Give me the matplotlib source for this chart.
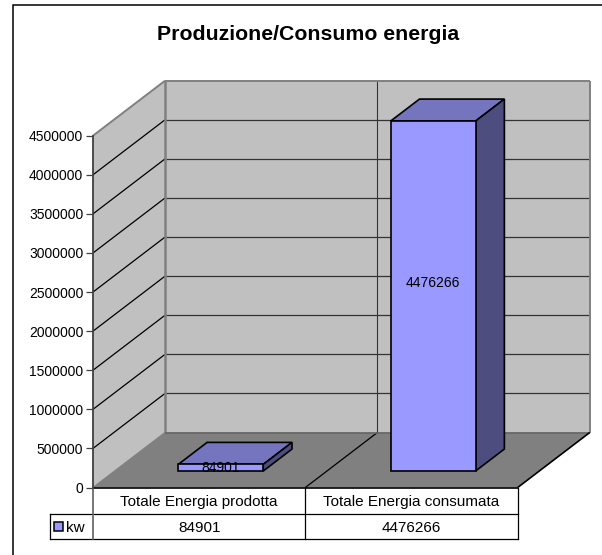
import matplotlib
matplotlib.use('Agg')
import matplotlib.pyplot as plt
from matplotlib.lines import Line2D
from matplotlib.patches import Polygon, Rectangle

plt.rcParams['font.family'] = ['Liberation Sans', 'DejaVu Sans']

title = 'Produzione/Consumo energia'
categories = ['Totale Energia prodotta', 'Totale Energia consumata']
values = [84901, 4476266]
series_name = 'kw'
y_ticks = [0, 500000, 1000000, 1500000, 2000000, 2500000, 3000000, 3500000, 4000000, 4500000]

W, H = 602, 555
# plot box in pixels
x0, x1, y_bot, y_top = 93, 517.7, 487.5, 135.7
DX = 0.339      # wall depth in category units
DY = 703000     # wall depth in value units
BAR = 0.4       # bar width / depth as share of a category

WALL = '#c0c0c0'
FLOOR = '#808080'
FRONT = '#9999ff'
TOP = '#7575bf'
SIDE = '#4d4d80'
FS = 10
FS_TABLE = 11

fig = plt.figure(figsize=(W / 100, H / 100), dpi=100)
ax = fig.add_axes([x0 / W, 1 - y_bot / H, (x1 - x0) / W, (y_bot - y_top) / H])
ax.set_xlim(0, len(categories))
ax.set_ylim(0, y_ticks[-1])
ax.patch.set_visible(False)


def pt(x, v, d=0.0):
    return (x + d * DX, v + d * DY)


def poly(points, fc, ec='none', lw=0, z=1):
    ax.add_patch(Polygon(points, closed=True, fc=fc, ec=ec, lw=lw, zorder=z,
                         clip_on=False, joinstyle='miter'))


def line(a, b, color='black', lw=0.8, z=2):
    ax.plot([a[0], b[0]], [a[1], b[1]], color=color, lw=lw, zorder=z,
            clip_on=False, solid_capstyle='butt')


#1. walls and floor
n = len(categories)
top = y_ticks[-1]
poly([pt(0, 0), pt(0, 0, 1), pt(0, top, 1), pt(0, top)], WALL)
poly([pt(0, 0, 1), pt(n, 0, 1), pt(n, top, 1), pt(0, top, 1)], WALL)
poly([pt(0, 0), pt(n, 0), pt(n, 0, 1), pt(0, 0, 1)], FLOOR)

for t in y_ticks[1:-1]:
    line(pt(0, t), pt(0, t, 1), lw=0.9)
    line(pt(0, t, 1), pt(n, t, 1), color='#333333', lw=0.9)

# category divider on floor and back wall
line(pt(1, 0), pt(1, 0, 1), lw=0.9)
line(pt(1, 0, 1), pt(1, top, 1), color='#333333', lw=0.8)

# wall outlines
line(pt(0, top), pt(0, top, 1), color=FLOOR, lw=1.4)
line(pt(0, top, 1), pt(n, top, 1), color=FLOOR, lw=1.4)
line(pt(0, 0, 1), pt(0, top, 1), color=FLOOR, lw=1.8)
line(pt(n, 0, 1), pt(n, top, 1), color=FLOOR, lw=1.4)
line(pt(0, 0, 1), pt(n, 0, 1), color='#666666', lw=1.2)
line(pt(0, 0), pt(0, 0, 1), color=FLOOR, lw=0.9)
line(pt(n, 0), pt(n, 0, 1), lw=1.2)
line(pt(0, 0), pt(n, 0), lw=1.2, z=3)

#2. bars
d0 = (1 - BAR) / 2
d1 = d0 + BAR
for i, v in enumerate(values):
    l = i + d0
    r = l + BAR
    poly([pt(l, v, d0), pt(r, v, d0), pt(r, v, d1), pt(l, v, d1)], TOP, 'black', 1.2, 4)
    poly([pt(r, 0, d0), pt(r, 0, d1), pt(r, v, d1), pt(r, v, d0)], SIDE, 'black', 1.2, 4)
    poly([pt(l, 0, d0), pt(r, 0, d0), pt(r, v, d0), pt(l, v, d0)], FRONT, 'black', 1.2, 5)
    cx, _ = pt(i + 0.5, 0, d0)
    ax.text(cx, 0.54 * v + d0 * DY - 10000, str(v), ha='center', va='center',
            fontsize=FS, zorder=6, clip_on=False)

#3. value axis
for s in ['top', 'right', 'bottom']:
    ax.spines[s].set_visible(False)
ax.spines['left'].set_color('#404040')
ax.spines['left'].set_linewidth(1.3)
ax.spines['left'].set_zorder(3)
ax.set_yticks(y_ticks)
ax.set_yticklabels([str(t) for t in y_ticks], fontsize=FS)
ax.tick_params(axis='y', length=5, width=0.9, color='#404040', pad=2)
ax.set_xticks([])

#4. data table under the plot
tr = ax.get_xaxis_transform()
box_h = y_bot - y_top
row1 = -26.5 / box_h
row2 = -51.5 / box_h
left = (50 - x0) / (x1 - x0) * n


def tline(xa, ya, xb, yb, color='black', lw=0.9):
    ax.plot([xa, xb], [ya, yb], color=color, lw=lw, transform=tr, clip_on=False,
            zorder=3, solid_capstyle='projecting')


tline(left, row1, n, row1)
tline(left, row2, n, row2)
tline(left, row1, left, row2)
tline(0, 0, 0, row2, color='#606060', lw=1.2)
tline(1, 0, 1, row2)
tline(n, 0, n, row2)

for i, c in enumerate(categories):
    ax.text(i + 0.5, row1 / 2 - 1.0 / box_h, c, transform=tr, ha='center', va='center',
            fontsize=FS_TABLE, clip_on=False)
    ax.text(i + 0.5, (row1 + row2) / 2 - 1.0 / box_h, str(values[i]), transform=tr, ha='center',
            va='center', fontsize=FS_TABLE, clip_on=False)

# legend key and series name in the table
key_x = (54 - x0) / (x1 - x0) * n
key_w = 9 / (x1 - x0) * n
key_h = 9 / box_h
ymid = (row1 + row2) / 2
ax.add_patch(Rectangle((key_x, ymid - key_h / 2), key_w, key_h, fc=FRONT, ec='black',
                       lw=1.1, transform=tr, clip_on=False, zorder=4))
ax.text((66 - x0) / (x1 - x0) * n, ymid - 1.0 / box_h, series_name, transform=tr, ha='left', va='center',
        fontsize=FS_TABLE, clip_on=False)

#5. title and chart frame (only the top and left edges fall inside the picture)
fig.text(308 / W, 1 - 34.5 / H, title, ha='center', va='center', fontsize=15.3, fontweight='bold')
fig.add_artist(Line2D([12.5 / W, 12.5 / W, 1], [0, 1 - 4.5 / H, 1 - 4.5 / H],
                      color='black', lw=1.1, solid_joinstyle='miter'))

fig.savefig('out.png', dpi=100)
